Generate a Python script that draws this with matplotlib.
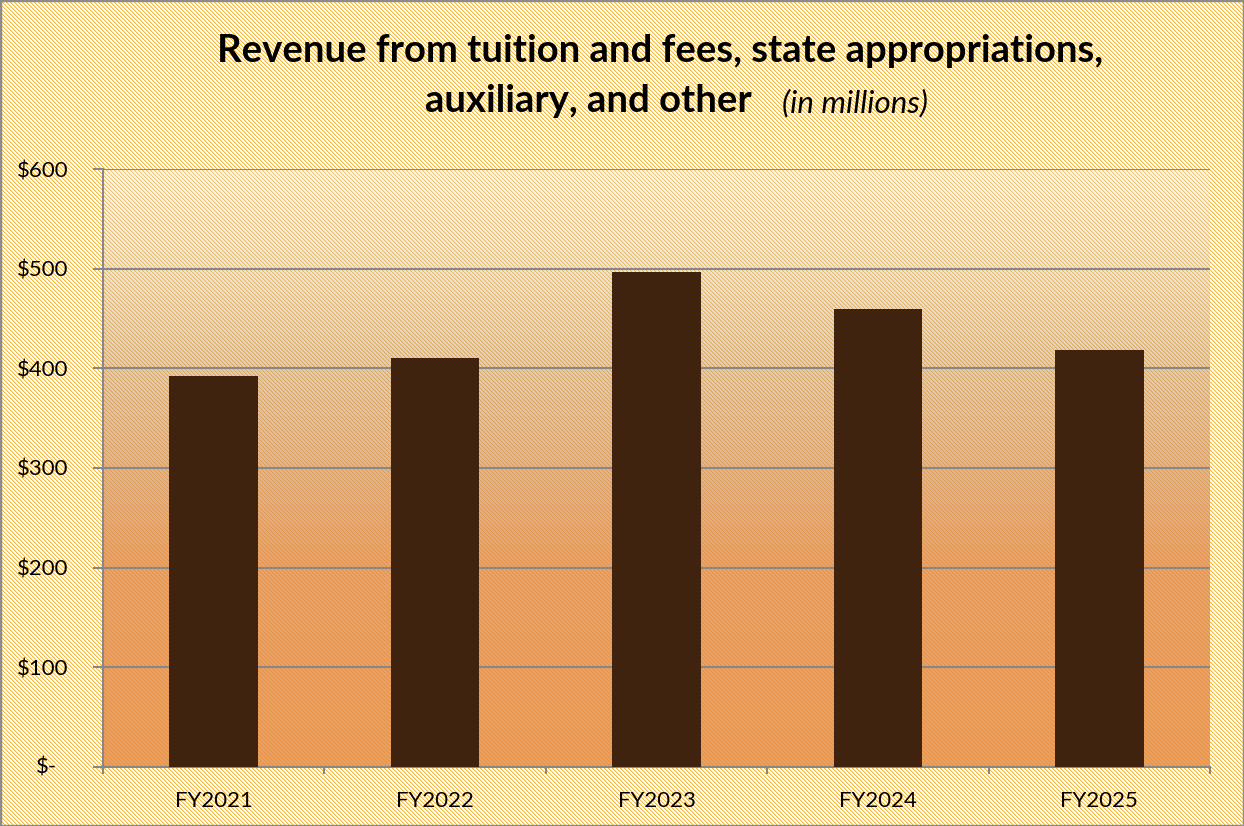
import numpy as np
import matplotlib
matplotlib.use('Agg')
import matplotlib.pyplot as plt
from matplotlib.patches import Rectangle

# data (in millions)
years = ['FY2021', 'FY2022', 'FY2023', 'FY2024', 'FY2025']
revenue = [392, 410, 497, 460, 418]
y_ticks = [0, 100, 200, 300, 400, 500, 600]
y_labels = ['$-', '$100', '$200', '$300', '$400', '$500', '$600']

W, H, DPI = 1244, 826, 100
# plot area in pixels: left, right, top, bottom
PL, PR, PT, PB = 103, 1210, 169, 767

plt.rcParams['font.family'] = ['Lato', 'DejaVu Sans']


def make_background():
    """Striped chart background; plot area gradient lets the stripes show
    through strongly at the top and faintly at the bottom."""
    yy, xx = np.mgrid[0:H, 0:W]
    phase = (xx - yy) % 4
    yellow = np.array([245, 186, 58]) / 255
    white = np.ones(3)
    img = np.ones((H, W, 3))
    img[phase == 0] = yellow
    img[phase == 1] = 0.6 * white + 0.4 * yellow

    t = np.linspace(0, 1, PB - PT)
    stops_t = [0.0, 0.17, 0.33, 0.5, 0.65, 1.0]
    stops_c = np.array([[248, 247, 246], [236, 228, 221], [224, 204, 190],
                        [224, 182, 152], [229, 166, 121], [233, 160, 105]]) / 255
    grad = np.stack([np.interp(t, stops_t, stops_c[:, i]) for i in range(3)], axis=1)
    # how much of the stripe pattern shows through
    k = np.interp(t, [0.0, 0.17, 0.33, 0.55, 1.0], [0.72, 0.6, 0.5, 0.3, 0.2])
    area = np.repeat(grad[:, None, :], PR - PL, axis=1)
    kk = np.repeat(k[:, None], PR - PL, axis=1)
    p = phase[PT:PB, PL:PR]
    diff = white - yellow
    m0 = p == 0
    m1 = p == 1
    area[m0] = area[m0] - kk[m0][:, None] * diff
    area[m1] = area[m1] - 0.25 * kk[m1][:, None] * diff
    img[PT:PB, PL:PR] = np.clip(area, 0, 1)
    return img


fig = plt.figure(figsize=(W / DPI, H / DPI), dpi=DPI)
fig.figimage(make_background(), 0, 0, zorder=-1)

ax = fig.add_axes([PL / W, 1 - PB / H, (PR - PL) / W, (PB - PT) / H])
ax.set_facecolor('none')

x = np.arange(len(years))
ax.bar(x, revenue, width=0.4, color='#40230F', zorder=3)

ax.set_xlim(-0.5, len(years) - 0.5)
ax.set_ylim(0, 600)

grid_col = '#878787'
ax.set_yticks(y_ticks)
ax.set_yticklabels([''] + y_labels[1:])
ax.yaxis.grid(True, color=grid_col, lw=1.5)
ax.set_axisbelow(True)
ax.tick_params(axis='y', length=7, width=1.5, color=grid_col, pad=18,
               labelsize=16)
# accounting-style zero label sits further in
ax.annotate(y_labels[0], xy=(0, 0), xycoords=('axes fraction', 'data'),
            xytext=(-33, 0), textcoords='offset points', ha='right',
            va='center', fontsize=16)

ax.set_xticks(x)
ax.set_xticklabels(years)
ax.set_xticks(np.arange(-0.5, len(years)), minor=True)
ax.tick_params(axis='x', which='major', length=0, pad=17, labelsize=16)
ax.tick_params(axis='x', which='minor', length=5, width=1.5, color=grid_col)

for side in ['top', 'right']:
    ax.spines[side].set_visible(False)
for side in ['left', 'bottom']:
    ax.spines[side].set_color(grid_col)
    ax.spines[side].set_linewidth(1.5)

fig.text(660 / W, 1 - 62 / H,
         'Revenue from tuition and fees, state appropriations,',
         ha='center', va='baseline', fontsize=27.5, fontweight='bold')
fig.text(752 / W, 1 - 112 / H, 'auxiliary, and other',
         ha='right', va='baseline', fontsize=27.5, fontweight='bold')
fig.text(782 / W, 1 - 112 / H, '(in millions)',
         ha='left', va='baseline', fontsize=22.5, style='italic')

fig.add_artist(Rectangle((0, 0), 1, 1, transform=fig.transFigure,
                         fill=False, edgecolor='#8c8c8c', lw=2.5))

fig.savefig('out.png', dpi=DPI)
